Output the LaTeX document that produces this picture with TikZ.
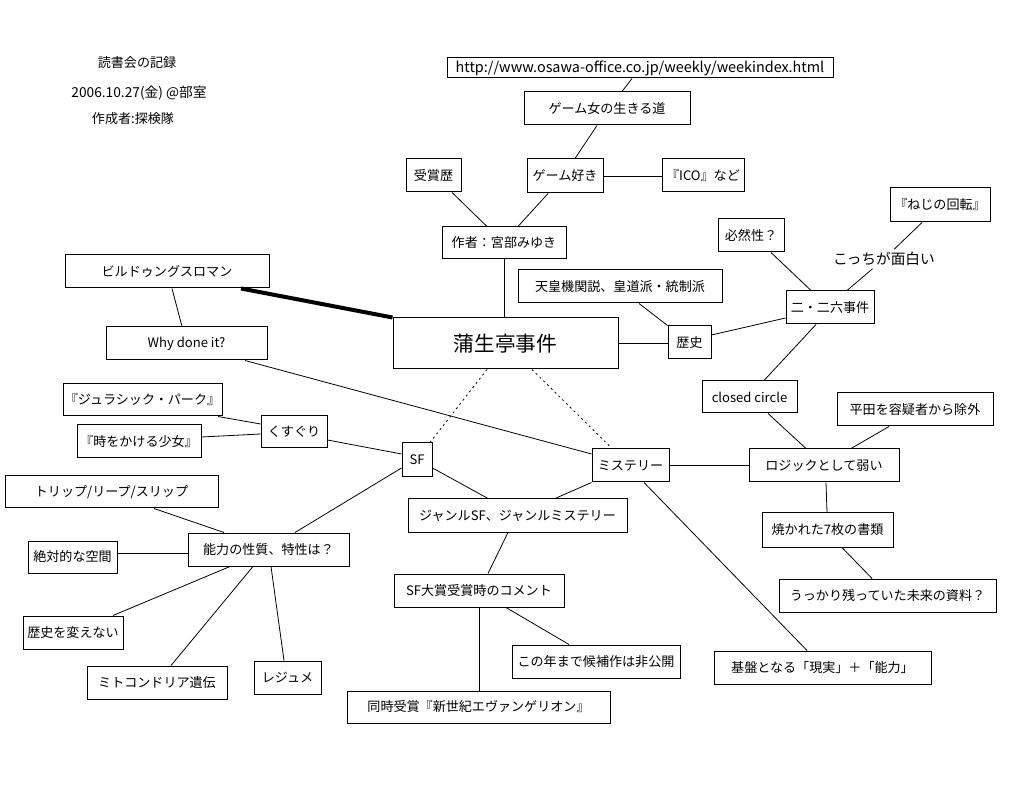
\documentclass[tikz,border=0pt]{standalone}
\usepackage{fontspec}
\setmainfont{Noto Sans CJK JP}
\usetikzlibrary{calc}
\newcommand{\bodyfnt}{\fontsize{9.8}{11}\selectfont}
\tikzset{bx/.style={draw, line width=0.75pt, inner sep=0pt, font=\bodyfnt, anchor=center}}
\tikzset{lbl/.style={inner sep=0pt, font=\bodyfnt}}
\tikzset{con/.style={line width=0.6pt}}
\tikzset{dcon/.style={line width=0.6pt, dash pattern=on 1.5pt off 2.5pt}}
\tikzset{heavycon/.style={line width=3pt}}
\newcommand{\BoxNode}[6]{\node[bx, minimum width=#2*0.75pt, minimum height=#3*0.75pt] (#1) at (#4,#5) {#6};}
\begin{document}
\begin{tikzpicture}[x=0.75pt, y=-0.75pt]
\useasboundingbox (0,0) rectangle (1035,787);
\fill[white] (0,0) rectangle (1035,787);
% header
\node[lbl] (h1) at (137,63) {読書会の記録};
\node[lbl, font=\fontsize{10.3}{12}\selectfont] (h2) at (139,93) {2006.10.27(金) @部室};
\node[lbl] (h3) at (133,119) {作成者:探検隊};
% nodes
\node[bx, minimum width=386*0.75pt, minimum height=20*0.75pt, font=\fontsize{10.8}{12}\selectfont] (url) at (640,68) {http://www.osawa-office.co.jp/weekly/weekindex.html};
\BoxNode{gw}{166}{33}{607}{108.5}{ゲーム女の生きる道}
\BoxNode{jushou}{55}{33}{433.5}{175.5}{受賞歴}
\BoxNode{gs}{76}{34}{565}{176}{ゲーム好き}
\BoxNode{ico}{82}{33}{703}{175.5}{『ICO』など}
\BoxNode{author}{124}{32}{504}{243}{作者：宮部みゆき}
\BoxNode{tenno}{204}{33}{620}{286.5}{天皇機関説、皇道派・統制派}
\node[bx, minimum width=225*0.75pt, minimum height=51*0.75pt, font=\fontsize{15.5}{18}\selectfont] (main) at (505.5,343.5) {蒲生亭事件};
\BoxNode{rekishi}{43}{33}{689.5}{342.5}{歴史}
\BoxNode{hitsuzen}{66}{33}{751}{235.5}{必然性？}
\BoxNode{neji}{100}{34}{940}{205}{『ねじの回転』}
\node[inner sep=2pt, font=\fontsize{11}{13}\selectfont] (kocchi) at (884,259) {こっちが面白い};
\BoxNode{niniroku}{88}{33}{830}{307.5}{二・二六事件}
\BoxNode{closed}{95}{32}{749.5}{397}{closed circle}
\BoxNode{hirata}{156}{33}{915}{409.5}{平田を容疑者から除外}
\BoxNode{logic}{150}{33}{824}{465.5}{ロジックとして弱い}
\BoxNode{yakareta}{131}{34}{827.5}{530}{焼かれた7枚の書類}
\BoxNode{ukkari}{217}{33}{887.5}{595.5}{うっかり残っていた未来の資料？}
\BoxNode{kiban}{217}{33}{822.5}{667.5}{基盤となる「現実」＋「能力」}
\BoxNode{mystery}{77}{33}{630.5}{465.5}{ミステリー}
\BoxNode{sf}{30}{34}{417}{460}{SF}
\BoxNode{genre}{219}{33}{517.5}{515.5}{ジャンルSF、ジャンルミステリー}
\BoxNode{sfaward}{170}{33}{479}{590.5}{SF大賞受賞時のコメント}
\BoxNode{konotoshi}{168}{33}{596}{661.5}{この年まで候補作は非公開}
\BoxNode{douji}{263}{32}{478.5}{707}{同時受賞『新世紀エヴァンゲリオン』}
\BoxNode{jurassic}{159}{32}{142.5}{400}{『ジュラシック・パーク』}
\BoxNode{toki}{124}{33}{139}{441.5}{『時をかける少女』}
\BoxNode{kusuguri}{66}{32}{294}{432}{くすぐり}
\BoxNode{trip}{213}{32}{111.5}{492}{トリップ/リープ/スリップ}
\BoxNode{nouryoku}{161}{33}{268.5}{549.5}{能力の性質、特性は？}
\BoxNode{zettai}{89}{32}{72.5}{557}{絶対的な空間}
\BoxNode{rekishikae}{100}{33}{73}{632.5}{歴史を変えない}
\BoxNode{mito}{140}{33}{157}{682.5}{ミトコンドリア遺伝}
\BoxNode{resume}{67}{33}{287.5}{677.5}{レジュメ}
\BoxNode{bildung}{204}{33}{167}{271.5}{ビルドゥングスロマン}
\BoxNode{why}{161}{33}{186.5}{343.5}{Why done it?}
% connectors
\draw[con] ($(url.south)+(-8,0)$) -- ($(gw.north)+(15,0)$);
\draw[con] ($(gw.south)+(-10,0)$) -- ($(gs.north)+(10,0)$);
\draw[con] (gs.east) -- (gs.east -| ico.west);
\draw[con] ($(jushou.south)+(18.5,0)$) -- ($(author.north)+(-17,0)$);
\draw[con] ($(gs.south)+(-17,0)$) -- ($(author.north)+(14,0)$);
\draw[con] (author.south) -- (author.south |- main.north);
\draw[con] ($(tenno.south)+(19,0)$) -- (rekishi.north west);
\draw[con] (main.east) -- (main.east -| rekishi.west);
\draw[con] ($(rekishi.east)+(0,-7.5)$) -- ($(niniroku.west)+(0,10.5)$);
\draw[con] ($(hitsuzen.south)+(20,0)$) -- ($(niniroku.north)+(-19,0)$);
\draw[con] ($(neji.south)+(-18,0)$) -- (kocchi);
\draw[con] (kocchi) -- ($(niniroku.north)+(17,0)$);
\draw[con] ($(niniroku.south)+(-14,0)$) -- ($(closed.north)+(14.5,0)$);
\draw[con] ($(closed.south)+(18.5,0)$) -- ($(logic.north)+(-18,0)$);
\draw[con] ($(hirata.south)+(-26,0)$) -- ($(logic.north)+(27,0)$);
\draw[con] (mystery.east) -- (mystery.east -| logic.west);
\draw[con] ($(logic.south)+(2,0)$) -- ($(yakareta.north)+(-0.5,0)$);
\draw[con] ($(yakareta.south)+(14.5,0)$) -- ($(ukkari.north)+(-15.5,0)$);
\draw[con] ($(mystery.south)+(13.5,0)$) -- ($(kiban.north)+(-15.5,0)$);
\draw[dcon] ($(main.south)+(-18.5,0)$) -- ($(sf.north)+(13,0)$);
\draw[dcon] ($(main.south)+(26.5,0)$) -- ($(mystery.north)+(-18.5,0)$);
\draw[con] ($(why.south)+(58.5,0)$) -- ($(mystery.west)+(0,-11.5)$);
\draw[con] ($(bildung.south)+(5,0)$) -- ($(why.north)+(-4.5,0)$);
\draw[heavycon] ($(bildung.south)+(74,0)$) -- (main.north west);
\draw[con] ($(kusuguri.east)+(0,8)$) -- ($(sf.west)+(0,-6)$);
\draw[con] ($(jurassic.south)+(75.5,0)$) -- ($(kusuguri.west)+(0,-8)$);
\draw[con] ($(toki.east)+(0,-4.5)$) -- ($(kusuguri.west)+(0,2)$);
\draw[con] ($(sf.east)+(0,8)$) -- ($(genre.north)+(-29.5,0)$);
\draw[con] (mystery.south west) -- ($(genre.north)+(37.5,0)$);
\draw[con] ($(genre.south)+(-9.5,0)$) -- ($(sfaward.north)+(9,0)$);
\draw[con] (sfaward.south) -- (sfaward.south |- douji.north);
\draw[con] ($(sfaward.south)+(27,0)$) -- ($(konotoshi.north)+(-27,0)$);
\draw[con] ($(sf.west)+(0,8)$) -- ($(nouryoku.north)+(26.5,0)$);
\draw[con] ($(trip.south)+(42.5,0)$) -- ($(nouryoku.north)+(-44.5,0)$);
\coordinate (zc) at ($(zettai.east)+(0,-4)$);
\draw[con] (zc) -- (zc -| nouryoku.west);
\draw[con] ($(nouryoku.south)+(-38.5,0)$) -- ($(rekishikae.north)+(40,0)$);
\draw[con] ($(nouryoku.south)+(-15.5,0)$) -- ($(mito.north)+(14,0)$);
\draw[con] ($(nouryoku.south)+(2.5,0)$) -- ($(resume.north)+(-3.5,0)$);
\end{tikzpicture}
\end{document}
